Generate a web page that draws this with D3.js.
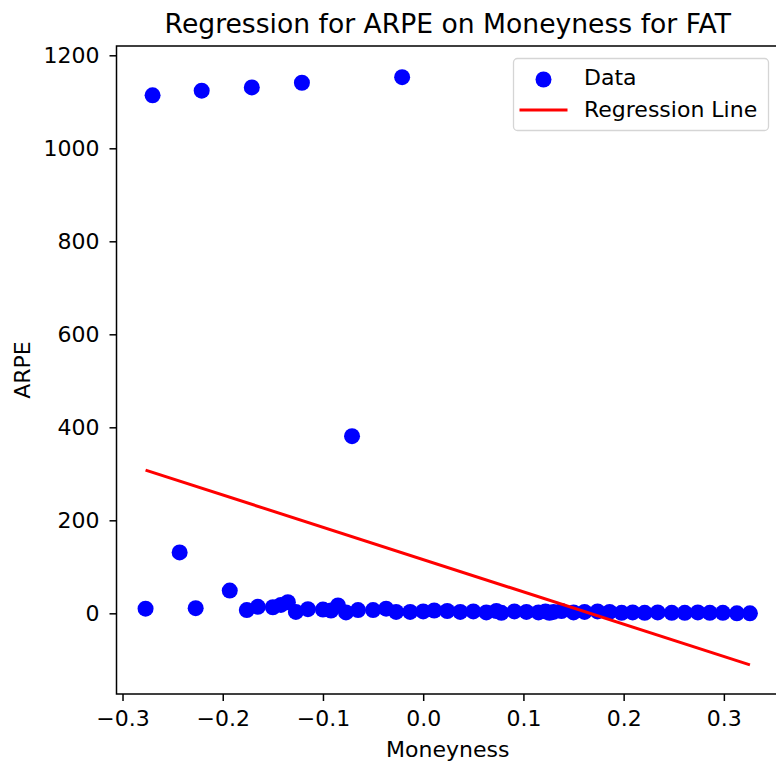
<!DOCTYPE html>
<html>
<head>
<meta charset="utf-8">
<script src="https://cdn.jsdelivr.net/npm/d3@7"></script>
<style>
  body { margin: 0; background: #fff; }
  svg { display: block; font-family: "DejaVu Sans", sans-serif; }
</style>
</head>
<body>
<svg id="chart"></svg>
<script>
const width = 776;
const height = 763;

// scatter data (moneyness, ARPE)
const moneyness = [
  -0.277, -0.270, -0.243, -0.227, -0.221, -0.193, -0.171, -0.121, -0.071, -0.021,
  -0.176, -0.165, -0.150, -0.142, -0.135, -0.127, -0.115, -0.100, -0.092, -0.085,
  -0.077, -0.065, -0.050, -0.037, -0.027, -0.013, 0.000, 0.011, 0.024, 0.037,
  0.050, 0.063, 0.073, 0.078, 0.091, 0.103, 0.115, 0.122, 0.126, 0.130,
  0.138, 0.150, 0.161, 0.174, 0.186, 0.198, 0.209, 0.221, 0.234, 0.248,
  0.261, 0.274, 0.286, 0.299, 0.313, 0.326
];
const arpe = [
  10, 1114, 131, 11, 1124, 49, 1131, 1141, 381, 1153,
  7, 14, 13, 18, 24, 3, 9, 8, 6, 17,
  2, 7, 7, 10, 3, 3, 4, 6, 5, 3,
  4, 2, 5, 1, 4, 3, 2, 4, 1, 3,
  5, 2, 3, 4, 3, 1, 2, 1, 2, 1,
  1, 2, 1, 1, 0, 0
];

// fitted regression line end points
const lineX = [-0.277, 0.326];
const lineY = [308, -111];

const xTicks = [-0.3, -0.2, -0.1, 0.0, 0.1, 0.2, 0.3];
const yTicks = [0, 200, 400, 600, 800, 1000, 1200];

const svg = d3.select("#chart")
  .attr("width", width)
  .attr("height", height)
  .style("overflow", "hidden");

// axes box (right edge falls just outside the picture)
const box = { left: 116.5, right: 781, top: 46, bottom: 694 };
const fontSize = 22;

const x = d3.scaleLinear().domain([-0.306, 0.357]).range([box.left, box.right]);
const y = d3.scaleLinear().domain([-173.5, 1220]).range([box.bottom, box.top]);

// x axis
const xAxisG = svg.append("g")
  .attr("transform", `translate(0,${box.bottom})`)
  .call(d3.axisBottom(x).tickValues(xTicks).tickFormat(d3.format(".1f"))
    .tickSize(7).tickSizeOuter(0).tickPadding(9.5));
xAxisG.select(".domain").remove();
xAxisG.selectAll("line").attr("stroke", "#000").attr("stroke-width", 1.5);
xAxisG.selectAll("text").attr("font-size", fontSize).attr("font-family", "DejaVu Sans").attr("fill", "#000");

// y axis
const yAxisG = svg.append("g")
  .attr("transform", `translate(${box.left},0)`)
  .call(d3.axisLeft(y).tickValues(yTicks).tickFormat(d3.format("d"))
    .tickSize(7).tickSizeOuter(0).tickPadding(10));
yAxisG.select(".domain").remove();
yAxisG.selectAll("line").attr("stroke", "#000").attr("stroke-width", 1.5);
yAxisG.selectAll("text").attr("font-size", fontSize).attr("font-family", "DejaVu Sans").attr("fill", "#000");

// frame
svg.append("rect")
  .attr("x", box.left).attr("y", box.top)
  .attr("width", box.right - box.left).attr("height", box.bottom - box.top)
  .attr("fill", "none").attr("stroke", "#000").attr("stroke-width", 1.5);

// points
const points = moneyness.map((m, i) => ({ m, v: arpe[i] }));
svg.append("g").selectAll("circle")
  .data(points)
  .enter()
  .append("circle")
  .attr("cx", d => x(d.m))
  .attr("cy", d => y(d.v))
  .attr("r", 8)
  .attr("fill", "#0000ff");

// regression line
svg.append("path")
  .datum(lineX.map((v, i) => [v, lineY[i]]))
  .attr("d", d3.line().x(d => x(d[0])).y(d => y(d[1])))
  .attr("fill", "none")
  .attr("stroke", "#ff0000")
  .attr("stroke-width", 3);

// title and labels
const midX = (box.left + box.right) / 2 - 1;
svg.append("text")
  .attr("x", midX)
  .attr("y", 33)
  .attr("text-anchor", "middle")
  .attr("font-size", 26.6)
  .text("Regression for ARPE on Moneyness for FAT");

svg.append("text")
  .attr("x", midX)
  .attr("y", 757)
  .attr("text-anchor", "middle")
  .attr("font-size", fontSize)
  .text("Moneyness");

svg.append("text")
  .attr("transform", `translate(30,${(box.top + box.bottom) / 2}) rotate(-90)`)
  .attr("text-anchor", "middle")
  .attr("font-size", fontSize)
  .text("ARPE");

// legend
const legend = svg.append("g");
legend.append("rect")
  .attr("x", 513.5).attr("y", 58.5)
  .attr("width", 255).attr("height", 72)
  .attr("rx", 4)
  .attr("fill", "#fff").attr("fill-opacity", 0.8)
  .attr("stroke", "#d5d5d5").attr("stroke-width", 1.3);
legend.append("circle")
  .attr("cx", 543.5).attr("cy", 79.5).attr("r", 8).attr("fill", "#0000ff");
legend.append("line")
  .attr("x1", 519.5).attr("x2", 567.5).attr("y1", 110).attr("y2", 110)
  .attr("stroke", "#ff0000").attr("stroke-width", 3);
legend.append("text")
  .attr("x", 584).attr("y", 85).attr("font-size", fontSize).text("Data");
legend.append("text")
  .attr("x", 584).attr("y", 117).attr("font-size", fontSize).text("Regression Line");
</script>
</body>
</html>
